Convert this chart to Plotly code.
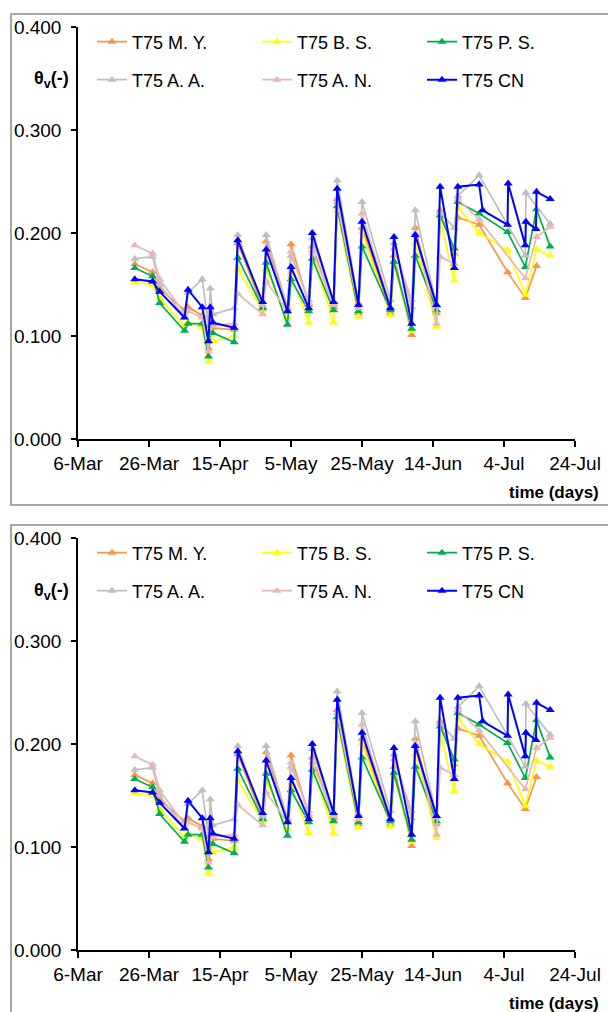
import plotly.graph_objects as go

dates = ["2013-03-22", "2013-03-27", "2013-03-29", "2013-04-05", "2013-04-06", "2013-04-10",
         "2013-04-11 18:00", "2013-04-12 06:00", "2013-04-13", "2013-04-19", "2013-04-20",
         "2013-04-27", "2013-04-28", "2013-05-04", "2013-05-05", "2013-05-10", "2013-05-11",
         "2013-05-17", "2013-05-18", "2013-05-24", "2013-05-25", "2013-06-02", "2013-06-03",
         "2013-06-08", "2013-06-09", "2013-06-15", "2013-06-16", "2013-06-20", "2013-06-21",
         "2013-06-27", "2013-06-28", "2013-07-05 00:00", "2013-07-05 04:00", "2013-07-10 00:00",
         "2013-07-10 04:00", "2013-07-13 00:00", "2013-07-13 04:00", "2013-07-17"]

my_vals = [0.170, 0.162, 0.146, 0.125, 0.128, 0.120, 0.088, 0.124, 0.108, 0.106, 0.190,
           0.128, 0.192, 0.126, 0.189, 0.130, 0.187, 0.128, 0.233, 0.122, 0.205, 0.122,
           0.178, 0.101, 0.205, 0.122, 0.222, 0.180, 0.215, 0.208, None, 0.162, None,
           0.137, None, None, 0.168, None]
bs_vals = [0.152, 0.150, 0.137, 0.110, 0.113, 0.108, 0.075, 0.110, 0.095, 0.100, 0.165,
           0.125, 0.165, 0.118, 0.160, 0.113, 0.180, 0.113, 0.222, 0.119, 0.201, 0.120,
           0.170, 0.105, 0.190, 0.109, 0.213, 0.154, 0.225, 0.200, None, 0.183, None,
           0.140, None, None, 0.184, 0.178]
ps_vals = [0.166, 0.158, 0.132, 0.105, 0.112, 0.112, 0.080, 0.103, 0.103, 0.094, 0.176,
           0.127, 0.171, 0.111, 0.155, 0.124, 0.175, 0.125, 0.226, 0.124, 0.187, 0.125,
           0.172, 0.107, 0.178, 0.125, 0.217, 0.185, 0.230, 0.219, None, 0.201, None,
           0.167, None, None, 0.223, 0.187]
aa_vals = [0.175, 0.177, 0.150, 0.118, 0.142, 0.155, 0.110, 0.146, 0.121, 0.127, 0.198,
           0.130, 0.198, 0.128, 0.178, 0.135, 0.195, 0.131, 0.251, 0.132, 0.230, 0.135,
           0.190, 0.128, 0.222, 0.129, 0.220, 0.205, 0.236, 0.256, None, None, None,
           0.178, 0.239, None, None, 0.209]
an_vals = [0.188, 0.180, 0.155, 0.122, 0.124, 0.118, 0.085, 0.115, 0.110, 0.112, 0.141,
           0.121, 0.153, 0.124, 0.182, 0.132, 0.183, 0.130, 0.230, 0.127, 0.219, 0.128,
           0.185, 0.135, 0.200, 0.112, 0.177, 0.170, 0.233, 0.213, None, None, None,
           0.156, None, None, 0.196, 0.206]
cn_vals = [0.155, 0.153, 0.143, 0.118, 0.145, 0.128, 0.095, 0.128, 0.113, 0.108, 0.193,
           0.133, 0.184, 0.124, 0.167, 0.127, 0.200, 0.133, 0.243, 0.130, 0.211, 0.127,
           0.196, 0.112, 0.198, 0.130, 0.245, 0.166, 0.245, 0.247, 0.222, 0.208, 0.248,
           0.188, 0.211, 0.204, 0.240, 0.233]

series_names = ["T75 M. Y.", "T75 B. S.", "T75 P. S.", "T75 A. A.", "T75 A. N.", "T75 CN"]
series_values = [my_vals, bs_vals, ps_vals, aa_vals, an_vals, cn_vals]
series_colors = ["#F79646", "#FFFF00", "#00B050", "#BFBFBF", "#E6B9B8", "#0000FF"]

tick_dates = ["2013-03-06", "2013-03-26", "2013-04-15", "2013-05-05", "2013-05-25",
              "2013-06-14", "2013-07-04", "2013-07-24"]
tick_labels = ["6-Mar", "26-Mar", "15-Apr", "5-May", "25-May", "14-Jun", "4-Jul", "24-Jul"]
y_ticks = [0.0, 0.1, 0.2, 0.3, 0.4]

W, H = 608, 1012
FONT = "Liberation Sans, Arial, sans-serif"
PANEL_SHIFT = 511  # px between the two identical panels


def py(px):
    return 1 - px / H


fig = go.Figure()

panels = [("x", "y", "legend", "legend2"), ("x2", "y2", "legend3", "legend4")]
for xa, ya, lg1, lg2 in panels:
    for i, (name, vals, col) in enumerate(zip(series_names, series_values, series_colors)):
        fig.add_trace(go.Scatter(
            x=dates, y=vals, name=name, mode="lines+markers",
            connectgaps=True, xaxis=xa, yaxis=ya,
            line=dict(color=col, width=2 if i == 5 else 1.7),
            marker=dict(symbol="triangle-up", size=8, color=col),
            legend=lg1 if i < 3 else lg2,
        ))

axis_common = dict(showline=True, linecolor="black", linewidth=1.5, ticks="outside",
                   tickcolor="black", tickwidth=1.5, showgrid=False, zeroline=False,
                   automargin=False,
                   tickfont=dict(family=FONT, size=19, color="black"))

xdom = [78 / W, 575 / W]
layout = dict(
    width=W, height=H, margin=dict(l=0, r=0, t=0, b=0, autoexpand=False),
    paper_bgcolor="white", plot_bgcolor="white",
    font=dict(family=FONT, color="black"),
)
for k, off in [("", 0), ("2", PANEL_SHIFT)]:
    layout["xaxis" + k] = dict(axis_common, type="date", domain=xdom,
                               range=["2013-03-06", "2013-07-24"],
                               tickvals=tick_dates, ticktext=tick_labels, ticklen=6,
                               anchor="y" + k)
    layout["yaxis" + k] = dict(axis_common, domain=[py(439 + off), py(27 + off)],
                               range=[0, 0.4], tickvals=y_ticks, tickformat=".3f",
                               ticklen=5, ticklabelstandoff=6, anchor="x" + k)

leg_common = dict(orientation="h", entrywidth=120, entrywidthmode="pixels",
                  font=dict(family=FONT, size=18, color="black"),
                  bgcolor="rgba(0,0,0,0)", xanchor="left", yanchor="middle",
                  itemwidth=30, tracegroupgap=0, borderwidth=0)
LEGX = 92 / W
layout["legend"] = dict(leg_common, x=LEGX, y=py(42))
layout["legend2"] = dict(leg_common, x=LEGX, y=py(80))
layout["legend3"] = dict(leg_common, x=LEGX, y=py(42 + PANEL_SHIFT))
layout["legend4"] = dict(leg_common, x=LEGX, y=py(80 + PANEL_SHIFT))

shapes = []
annotations = []
for off in [0, PANEL_SHIFT]:
    shapes.append(dict(type="rect", xref="paper", yref="paper",
                       x0=11 / W, x1=1.02, y0=py(505 + off), y1=py(14 + off),
                       line=dict(color="#A6A6A6", width=2), fillcolor="rgba(0,0,0,0)",
                       layer="below"))
    annotations.append(dict(text="<b>θ<sub>v</sub>(-)</b>", xref="paper", yref="paper",
                            x=71 / W, y=py(80 + off), xanchor="right", yanchor="middle",
                            showarrow=False, font=dict(family=FONT, size=18, color="black")))
    annotations.append(dict(text="<b>time (days)</b>", xref="paper", yref="paper",
                            x=601 / W, y=py(492 + off), xanchor="right", yanchor="middle",
                            showarrow=False, font=dict(family=FONT, size=17, color="black")))
layout["shapes"] = shapes
layout["annotations"] = annotations

fig.update_layout(**layout)
fig.write_html("out.html")
